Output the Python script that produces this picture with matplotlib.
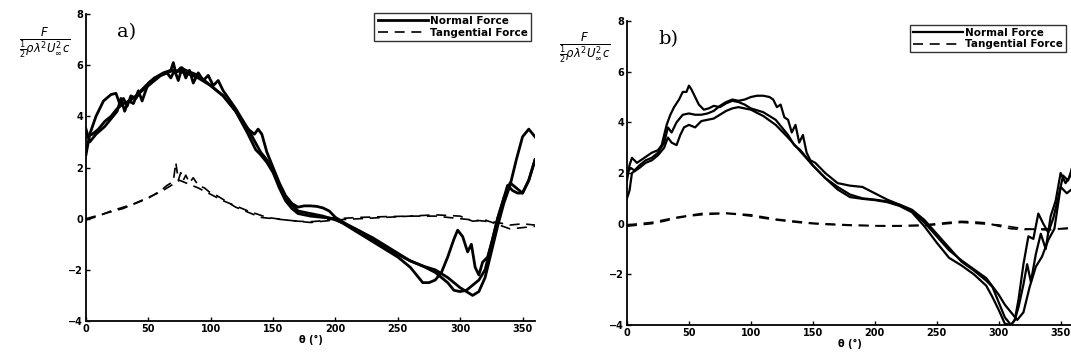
import matplotlib
matplotlib.use("Agg")
import matplotlib.pyplot as plt
import numpy as np

# panel a) normal force, three rotor revolutions
a_n1_th = [0, 3, 8, 14, 20, 24, 27, 30, 33, 36, 40, 44, 48, 55, 62, 68, 70, 72, 76, 80, 85, 90, 95, 100,
           110, 120, 130, 136, 140, 145, 150, 155, 160, 165, 170, 180, 190, 200, 210, 220, 230, 240, 250,
           260, 265, 270, 275, 280, 285, 290, 295, 298, 302, 306, 309, 312, 315, 318, 322, 326, 330, 335,
           338, 342, 346, 350, 355, 360]
a_n1 = [2.5, 3.3, 4.0, 4.6, 4.85, 4.9, 4.5, 4.7, 4.4, 4.8, 4.7, 5.0, 5.2, 5.5, 5.7, 5.8, 6.1, 5.7, 5.9,
        5.8, 5.7, 5.6, 5.4, 5.2, 4.8, 4.2, 3.3, 2.7, 2.5, 2.2, 1.8, 1.2, 0.7, 0.4, 0.2, 0.1, 0.05, 0.0,
        -0.3, -0.6, -0.9, -1.2, -1.5, -1.9, -2.2, -2.5, -2.5, -2.4, -2.1, -1.5, -0.8, -0.45, -0.7, -1.3,
        -1.0, -1.9, -2.2, -1.7, -1.5, -0.8, 0.0, 0.8, 1.3, 1.1, 1.0, 1.0, 1.5, 2.3]

a_n2_th = [0, 5, 10, 15, 20, 25, 30, 35, 40, 45, 50, 55, 60, 65, 70, 75, 80, 85, 90, 95, 100, 105, 110,
           115, 120, 125, 130, 135, 138, 141, 145, 150, 155, 160, 165, 170, 175, 180, 185, 190, 195, 200,
           210, 220, 230, 240, 250, 260, 270, 280, 290, 300, 305, 310, 315, 320, 325, 330, 335, 340, 345,
           350, 355, 360]
a_n2 = [3.2, 3.3, 3.5, 3.8, 4.0, 4.3, 4.5, 4.6, 4.8, 5.0, 5.2, 5.4, 5.6, 5.7, 5.8, 5.75, 5.7, 5.6, 5.5,
        5.35, 5.2, 5.0, 4.8, 4.5, 4.2, 3.8, 3.5, 3.3, 3.5, 3.3, 2.6, 2.0, 1.4, 0.9, 0.6, 0.45, 0.5, 0.5,
        0.48, 0.42, 0.3, 0.05, -0.25, -0.5, -0.75, -1.05, -1.35, -1.65, -1.85, -2.0, -2.3, -2.7, -2.85,
        -3.0, -2.85, -2.3, -1.3, -0.3, 0.6, 1.3, 2.3, 3.2, 3.5, 3.2]

a_n3_th = [0, 3, 8, 15, 20, 25, 28, 31, 34, 38, 42, 45, 50, 55, 60, 65, 68, 71, 74, 77, 80, 83, 86, 90,
           94, 98, 102, 106, 110, 120, 130, 140, 145, 150, 155, 160, 170, 180, 190, 200, 210, 220, 230,
           240, 250, 260, 270, 280, 290, 295, 300, 305, 310, 315, 320, 325, 330, 335, 340, 345, 350, 355, 360]
a_n3 = [3.5, 3.0, 3.3, 3.6, 3.9, 4.2, 4.7, 4.2, 4.6, 4.5, 5.0, 4.6, 5.3, 5.5, 5.6, 5.7, 5.5, 5.8, 5.4,
        5.9, 5.5, 5.8, 5.3, 5.7, 5.4, 5.6, 5.2, 5.4, 5.0, 4.3, 3.5, 2.6, 2.3, 1.9, 1.3, 0.8, 0.3, 0.2,
        0.1, -0.05, -0.25, -0.5, -0.8, -1.1, -1.4, -1.65, -1.85, -2.1, -2.5, -2.8, -2.85, -2.8, -2.6,
        -2.4, -2.0, -1.0, 0.0, 0.8, 1.4, 1.2, 1.0, 1.5, 2.3]

# panel a) tangential force
a_t1_th = [0, 10, 20, 30, 40, 50, 60, 65, 70, 72, 74, 76, 78, 80, 83, 86, 90, 95, 100, 105, 110, 115,
           120, 130, 140, 150, 160, 170, 180, 190, 200, 220, 240, 260, 280, 290, 300, 310, 320, 330, 340,
           350, 360]
a_t1 = [-0.05, 0.1, 0.3, 0.45, 0.6, 0.8, 1.1, 1.3, 1.45, 2.2, 1.5, 1.8, 1.5, 1.7, 1.4, 1.6, 1.3, 1.2,
        1.0, 0.9, 0.75, 0.6, 0.45, 0.25, 0.05, 0.0, -0.05, -0.1, -0.12, -0.08, 0.0, 0.05, 0.08, 0.1, 0.1,
        0.05, 0.0, -0.05, -0.1, -0.15, -0.25, -0.2, -0.25]
a_t2_th = [0, 30, 60, 75, 90, 110, 130, 145, 160, 180, 200, 240, 280, 300, 310, 320, 340, 360]
a_t2 = [0.0, 0.4, 1.05, 1.5, 1.2, 0.7, 0.3, 0.05, -0.05, -0.15, -0.05, 0.05, 0.15, 0.1, -0.1, -0.05,
        -0.4, -0.3]

# panel b) normal force
b_n1_th = [0, 2, 4, 8, 14, 20, 25, 28, 30, 32, 35, 38, 42, 45, 48, 50, 52, 55, 58, 62, 66, 70, 75, 80,
           85, 90, 95, 100, 110, 120, 130, 135, 140, 145, 150, 160, 170, 180, 190, 200, 210, 220, 230,
           240, 250, 260, 270, 280, 290, 295, 300, 305, 310, 313, 316, 320, 323, 326, 330, 334, 338, 342,
           346, 350, 354, 358, 360]
b_n1 = [1.7, 2.3, 2.6, 2.4, 2.6, 2.8, 2.9, 3.1, 3.5, 3.9, 4.3, 4.6, 4.9, 5.2, 5.2, 5.45, 5.3, 5.0, 4.7,
        4.5, 4.55, 4.65, 4.6, 4.75, 4.85, 4.8, 4.7, 4.55, 4.4, 4.1, 3.5, 3.1, 2.9, 2.6, 2.3, 1.8, 1.45,
        1.15, 1.0, 0.95, 0.88, 0.75, 0.55, 0.15, -0.4, -0.95, -1.5, -1.85, -2.25, -2.5, -3.1, -3.7, -4.0,
        -3.8, -3.3, -2.4, -1.6, -2.3, -1.2, -0.4, -1.0, 0.3, 0.9, 2.0, 1.6, 1.9, 2.4]

b_n2_th = [0, 3, 6, 10, 15, 20, 25, 30, 33, 36, 40, 45, 50, 55, 60, 65, 70, 75, 80, 85, 90, 95, 100,
           105, 110, 115, 118, 121, 124, 127, 130, 133, 136, 139, 142, 145, 148, 152, 160, 170, 180, 190,
           200, 210, 220, 230, 240, 250, 260, 270, 280, 290, 300, 305, 310, 315, 320, 325, 330, 335, 340,
           345, 350, 355, 360]
b_n2 = [2.0, 2.2, 2.1, 2.3, 2.5, 2.6, 2.8, 3.2, 3.8, 3.6, 4.0, 4.3, 4.35, 4.3, 4.3, 4.35, 4.45, 4.65,
        4.8, 4.9, 4.85, 4.9, 5.0, 5.05, 5.05, 5.0, 4.9, 4.6, 4.7, 4.2, 4.1, 3.6, 3.9, 3.2, 3.5, 2.8, 2.5,
        2.4, 2.0, 1.6, 1.5, 1.45, 1.2, 0.95, 0.75, 0.5, 0.05, -0.5, -1.05, -1.45, -1.8, -2.15, -2.8,
        -3.2, -3.5, -3.8, -3.5, -2.5, -1.7, -1.3, -0.65, -0.2, 1.45, 1.2, 1.4]

b_n3_th = [0, 2, 4, 7, 10, 15, 20, 25, 30, 33, 36, 40, 43, 46, 50, 55, 60, 65, 70, 75, 80, 85, 90, 95,
           100, 110, 120, 130, 140, 150, 160, 170, 180, 190, 200, 210, 220, 230, 240, 250, 260, 270, 280,
           290, 295, 300, 305, 310, 313, 316, 320, 324, 328, 332, 336, 340, 344, 348, 352, 356, 360]
b_n3 = [1.0, 1.3, 2.0, 2.1, 2.2, 2.4, 2.5, 2.7, 3.0, 3.4, 3.2, 3.1, 3.5, 3.8, 3.9, 3.8, 4.05, 4.1,
        4.15, 4.3, 4.45, 4.55, 4.6, 4.55, 4.5, 4.25, 3.9, 3.4, 2.85, 2.3, 1.8, 1.35, 1.05, 0.98, 0.93,
        0.85, 0.7, 0.45, -0.1, -0.75, -1.35, -1.65, -2.0, -2.45, -2.9, -3.4, -3.95, -4.0, -3.8, -3.0,
        -1.6, -0.5, -0.6, 0.4, 0.0, -0.35, 0.2, 1.0, 1.9, 1.7, 2.3]

# panel b) tangential force
b_t1_th = [0, 10, 20, 30, 40, 50, 60, 70, 80, 90, 100, 110, 120, 130, 140, 150, 160, 170, 180, 200, 220,
           240, 250, 260, 270, 280, 290, 300, 310, 320, 330, 340, 350, 360]
b_t1 = [-0.1, -0.05, 0.0, 0.1, 0.22, 0.3, 0.35, 0.38, 0.4, 0.36, 0.3, 0.22, 0.15, 0.09, 0.04, 0.0,
        -0.03, -0.05, -0.07, -0.08, -0.08, -0.05, 0.0, 0.05, 0.09, 0.07, 0.03, -0.1, -0.2, -0.23, -0.22,
        -0.2, -0.2, -0.2]
b_t2_th = [0, 20, 40, 60, 80, 100, 120, 150, 180, 210, 240, 270, 300, 320, 340, 360]
b_t2 = [-0.05, 0.05, 0.25, 0.4, 0.42, 0.35, 0.18, 0.02, -0.05, -0.1, -0.08, 0.05, -0.05, -0.2, -0.25, -0.15]

xticks = [0, 50, 100, 150, 200, 250, 300, 350]
yticks = [-4, -2, 0, 2, 4, 6, 8]
ylab = r'$\frac{F}{\frac{1}{2}\rho\lambda^2U_\infty^2c}$'

fig = plt.figure(figsize=(10.71, 3.58), dpi=100)
W, H = 1071, 358


def make_ax(l, r, t, b):
    return fig.add_axes([l / W, 1 - b / H, (r - l) / W, (b - t) / H])


panels = [
    (make_ax(86, 535, 14, 321), [(a_n1_th, a_n1), (a_n2_th, a_n2), (a_n3_th, a_n3)],
     [(a_t1_th, a_t1), (a_t2_th, a_t2)], 2.0, 'a)', (0.995, 1.01)),
    (make_ax(627, 1073, 21, 325), [(b_n1_th, b_n1), (b_n2_th, b_n2), (b_n3_th, b_n3)],
     [(b_t1_th, b_t1), (b_t2_th, b_t2)], 1.6, 'b)', (0.99, 0.995)),
]

for ax, normals, tangs, lw, tag, leg_anchor in panels:
    for i, (th, v) in enumerate(normals):
        ax.plot(th, v, color='black', lw=lw, solid_joinstyle='round',
                label='Normal Force' if i == 0 else None)
    for i, (th, v) in enumerate(tangs):
        ax.plot(th, v, color='black', lw=1.2, ls=(0, (6, 4)),
                label='Tangential Force' if i == 0 else None)
    ax.set_xlim(0, 360)
    ax.set_ylim(-4, 8)
    ax.set_xticks(xticks)
    ax.set_yticks(yticks)
    for s in ['top', 'right']:
        ax.spines[s].set_visible(False)
    for s in ['left', 'bottom']:
        ax.spines[s].set_linewidth(1.3)
    ax.tick_params(direction='in', length=3, width=1, labelsize=7, pad=2)
    for lab in ax.get_xticklabels() + ax.get_yticklabels():
        lab.set_fontweight('bold')
    ax.set_xlabel(r'θ (°)', fontsize=7, fontweight='bold', labelpad=1)
    ax.text(0.07, 0.97, tag, transform=ax.transAxes, fontsize=14, family='DejaVu Serif',
            va='top', ha='left')
    leg = ax.legend(loc='upper right', bbox_to_anchor=leg_anchor, fontsize=7.5, frameon=True,
                    fancybox=False, edgecolor='black', handlelength=4.8, handletextpad=0.2,
                    borderpad=0.3, labelspacing=0.15, borderaxespad=0.2)
    leg.get_frame().set_linewidth(1.0)
    for t in leg.get_texts():
        t.set_fontweight('bold')

fig.text(45 / W, 1 - 43 / H, ylab, fontsize=12, ha='center', va='center')
fig.text(585 / W, 1 - 48 / H, ylab, fontsize=12, ha='center', va='center')

fig.savefig('out.png', dpi=100)
